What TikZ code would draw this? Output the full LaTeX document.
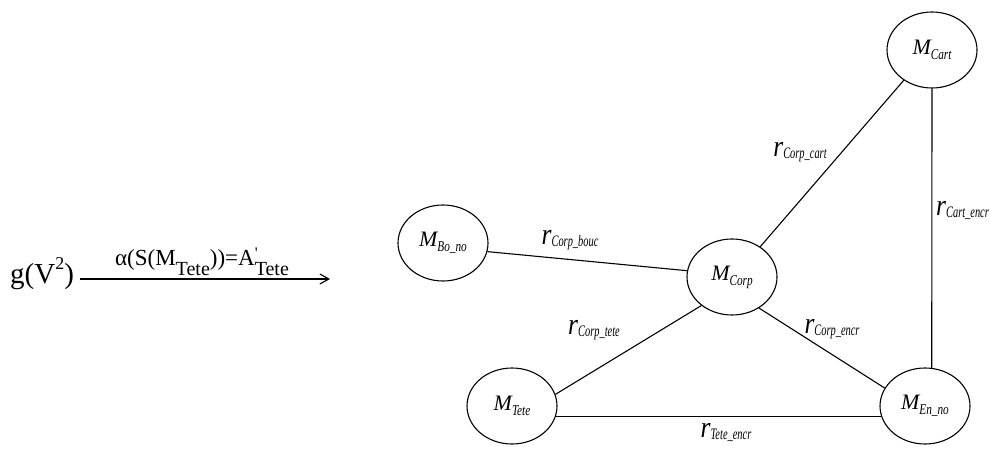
\documentclass[tikz,border=0pt]{standalone}
\usepackage{graphicx}
\usepackage{fontspec}
\setmainfont{Liberation Serif}
\usetikzlibrary{shapes.geometric,arrows.meta}
\newcommand{\mlab}[1]{\textit{\fontsize{22}{24}\selectfont M\raisebox{-5pt}{\scalebox{0.75}[1]{\fontsize{15}{16}\selectfont #1}}}}
\newcommand{\rlab}[1]{\textit{\scalebox{0.85}[1]{\fontsize{30}{32}\selectfont r}\raisebox{-2pt}{\scalebox{0.65}[1]{\fontsize{16}{18}\selectfont #1}}}}
\begin{document}
\begin{tikzpicture}[x=1pt,y=-1pt,
  mnode/.style={ellipse,draw,line width=1.1pt,minimum width=90pt,minimum height=76pt,inner sep=0pt},
  edge/.style={line width=1.1pt},
  elab/.style={inner sep=0pt}]
\useasboundingbox (0,0) rectangle (990,449);
% left formula
\node[anchor=base west,inner sep=0pt,font=\fontsize{29}{32}\selectfont] (g) at (10,283) {g(V\raisebox{14pt}{\fontsize{18}{20}\selectfont 2})};
\coordinate (astart) at (80,279);
\coordinate (aend) at (330,279);
\draw[line width=1.1pt,-{Straight Barb[length=9pt,width=10pt,line width=1.1pt]}] (astart) -- (aend);
\node[anchor=base,inner sep=0pt,font=\fontsize{23}{26}\selectfont] (albl) at (202,265)
  {α(S(M\raisebox{-10pt}{\fontsize{20}{22}\selectfont Tete}))=A\rlap{\raisebox{6pt}{\fontsize{16}{16}\selectfont\textquotesingle}}\raisebox{-10pt}{\fontsize{20}{22}\selectfont Tete}};
% nodes
\node[mnode] (cart) at (932,50) {\mlab{Cart}};
\node[mnode] (bo) at (443,243) {\mlab{Bo\_no}};
\node[mnode] (corp) at (732,277) {\mlab{Corp}};
\node[mnode] (tete) at (512,406) {\mlab{Tete}};
\node[mnode] (en) at (925,406) {\mlab{En\_no}};
% edges
\draw[edge] (bo.-11.6) -- (corp.172.4);
\draw[edge] (corp.47.6) -- (cart.-133);
\draw[edge] (cart.-90) -- (en.80);
\draw[edge] (corp.223) -- (tete.15.6);
\draw[edge] (corp.-49.7) -- (en.156.8);
\draw[edge] (tete.-13) -- (en.193);
% edge labels
\node[elab] (l1) at (570,240) {\rlab{Corp\_bouc}};
\node[elab] (l2) at (800,152) {\rlab{Corp\_cart}};
\node[elab,anchor=west] (l3) at (936,210) {\rlab{Cart\_encr}};
\node[elab] (l4) at (594,330) {\rlab{Corp\_tete}};
\node[elab] (l5) at (832,329) {\rlab{Corp\_encr}};
\node[elab] (l6) at (726,432) {\rlab{Tete\_encr}};
\end{tikzpicture}
\end{document}
